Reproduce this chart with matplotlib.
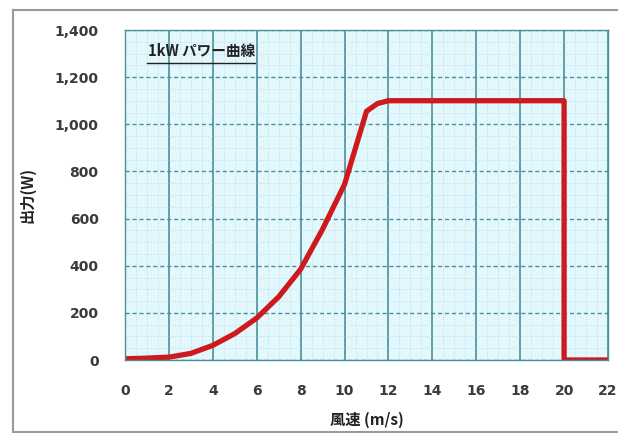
import matplotlib.pyplot as plt
from matplotlib.lines import Line2D
from matplotlib.ticker import MultipleLocator, FuncFormatter

plt.rcParams['font.family'] = ['Noto Sans CJK JP', 'DejaVu Sans']

# 風速 (m/s) と 出力 (W)
wind = [0, 1, 2, 3, 4, 5, 6, 7, 8, 9, 10, 11, 11.5, 12, 20, 20, 22]
power = [5, 8, 12, 28, 62, 112, 178, 268, 385, 555, 745, 1055, 1088, 1100, 1100, 0, 0]

x_ticks = [0, 2, 4, 6, 8, 10, 12, 14, 16, 18, 20, 22]
y_ticks = [0, 200, 400, 600, 800, 1000, 1200, 1400]

fig = plt.figure(figsize=(6.18, 4.33), dpi=100)
fig.patch.set_facecolor('white')
# 外枠 (上・左・下)
W, H = 618, 433
for xs, ys in [((13, W), (10, 10)), ((13, 13), (10, 432)), ((13, W), (432, 432))]:
    fig.add_artist(Line2D([x / W for x in xs], [1 - y / H for y in ys],
                          transform=fig.transFigure, color='#9a9a9a', linewidth=1.5))

ax = fig.add_axes([125 / W, 1 - 360 / H, 483 / W, 330 / H])
ax.set_facecolor('#e3f8fc')

ax.plot(wind, power, color='#cc1a1f', linewidth=3.8, solid_joinstyle='round')

ax.set_xlim(0, 22)
ax.set_ylim(0, 1400)
ax.set_xticks(x_ticks)
ax.set_yticks(y_ticks)
ax.xaxis.set_minor_locator(MultipleLocator(0.5))
ax.yaxis.set_minor_locator(MultipleLocator(50))
ax.yaxis.set_major_formatter(FuncFormatter(lambda v, p: f'{int(v):,}'))

ax.grid(True, which='minor', color='#a9d3dc', linewidth=0.5, linestyle=':')
ax.grid(True, axis='x', which='major', color='#4a8f9c', linewidth=1.2)
ax.grid(True, axis='y', which='major', color='#4a8f9c', linewidth=1.0, linestyle=(0, (3, 2)))
ax.set_axisbelow(True)

for s in ax.spines.values():
    s.set_color('#4a8f9c')
    s.set_linewidth(1.0)
ax.tick_params(which='both', length=0, labelsize=10, labelcolor='#3a3a3a')
ax.tick_params(axis='y', pad=19)
ax.tick_params(axis='x', pad=17)
for lab in ax.get_xticklabels() + ax.get_yticklabels():
    lab.set_family('DejaVu Sans')
    lab.set_fontweight('bold')

ax.set_xlabel('風速 (m/s)', fontsize=11, fontweight='bold', color='#222222', labelpad=10)
ax.set_ylabel('出力(W)', fontsize=11, fontweight='bold', color='#222222', labelpad=14)

ax.text(1.05, 1310, '1kW パワー曲線', fontsize=10.5, fontweight='bold', color='#222222',
        va='center', ha='left')
ax.plot([1.0, 5.9], [1262, 1262], color='#222222', linewidth=1.0)

fig.savefig('out.png', dpi=100)
